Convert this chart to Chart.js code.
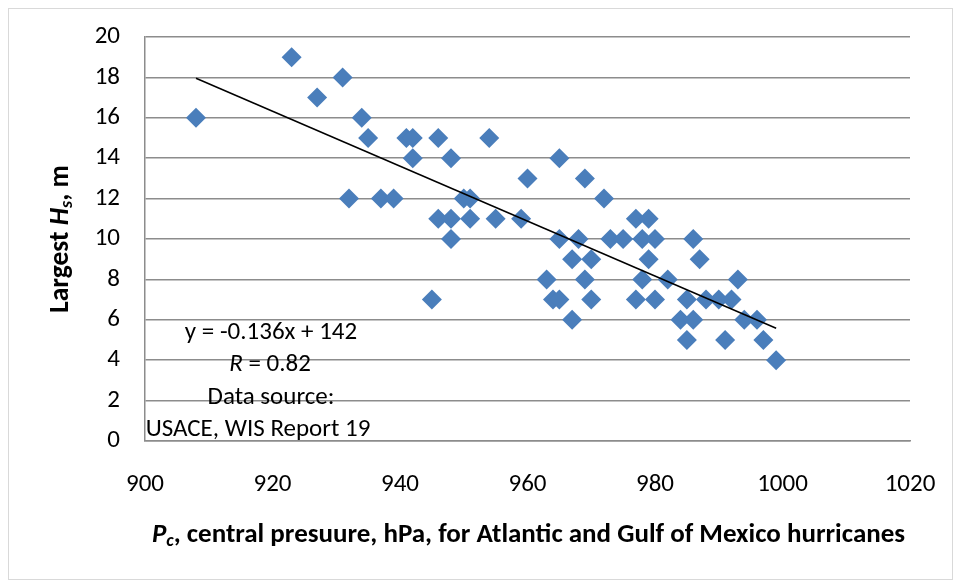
<!DOCTYPE html>
<html>
<head>
<meta charset="utf-8">
<script src="https://cdn.jsdelivr.net/npm/chart.js@4.4.1/dist/chart.umd.min.js"></script>
<style>
html,body{margin:0;padding:0;background:#fff;}
#wrap{position:relative;width:956px;height:583px;}
#frame{position:absolute;left:8px;top:8px;width:945px;height:572px;border:1.5px solid #d9d9d9;box-sizing:border-box;}
canvas{position:absolute;left:0;top:0;}
</style>
</head>
<body>
<div id="wrap">
<div id="frame"></div>
<canvas id="c" width="956" height="583"></canvas>
</div>
<script>
// Central pressure (hPa) and largest Hs (m)
const pressure = [908,923,927,931,932,934,935,937,939,941,942,942,945,946,946,948,948,948,950,951,951,954,955,959,960,963,964,965,965,965,967,967,968,969,969,970,970,972,973,975,977,977,978,978,979,979,980,980,982,984,985,985,986,986,987,988,990,991,992,993,994,996,997,999];
const waveHeight = [16,19,17,18,12,16,15,12,12,15,15,14,7,15,11,14,11,10,12,12,11,15,11,11,13,8,7,7,14,10,9,6,10,13,8,9,7,12,10,10,11,7,10,8,11,9,10,7,8,6,7,5,10,6,9,7,7,5,7,8,6,6,5,4];
const trendX = [908, 999];
const trendY = [17.96, 5.58];
const xTicks = [900,920,940,960,980,1000,1020];
const yTicks = [0,2,4,6,8,10,12,14,16,18,20];
const annotationLines = ["y = -0.136x + 142", "R = 0.82", "Data source:", "USACE, WIS Report 19"];

const FONT = "Carlito, Lato, 'Open Sans', sans-serif";
const TICK_SIZE = 25;
const NOTE_SIZE = 25;
const XTITLE_SIZE = 27;
const YTITLE_SIZE = 27.5;
const SUB_SIZE = 18;
const AREA = {left:145, right:910, top:37, bottom:441};

const scatterData = pressure.map((p,i)=>({x:p,y:waveHeight[i]}));
const trendData = trendX.map((x,i)=>({x:x,y:trendY[i]}));

const textPlugin = {
  id:'texts',
  afterDraw(chart){
    const ctx = chart.ctx;
    const ca = chart.chartArea;
    ctx.save();
    ctx.fillStyle = '#000';
    ctx.textBaseline = 'middle';
    const cx = [271, 270, 271, 258];
    const cy = [333, 365, 398, 430];
    const nf = NOTE_SIZE + "px " + FONT;
    const nfi = "italic " + NOTE_SIZE + "px " + FONT;
    annotationLines.forEach((t,i)=>{
      if (i === 1) {
        ctx.font = nfi;
        const w1 = ctx.measureText("R").width;
        ctx.font = nf;
        const rest = t.slice(1);
        const w2 = ctx.measureText(rest).width;
        const x0 = cx[i] - (w1+w2)/2;
        ctx.textAlign = 'left';
        ctx.font = nfi;
        ctx.fillText("R", x0, cy[i]);
        ctx.font = nf;
        ctx.fillText(rest, x0 + w1, cy[i]);
      } else {
        ctx.font = nf;
        ctx.textAlign = 'center';
        ctx.fillText(t, cx[i], cy[i]);
      }
    });
    const parts = [
      {t:"P", f:"italic bold "+XTITLE_SIZE+"px "+FONT, dy:0},
      {t:"c", f:"italic bold "+SUB_SIZE+"px "+FONT, dy:6},
      {t:", central presuure, hPa, for Atlantic and Gulf of Mexico hurricanes", f:"bold "+XTITLE_SIZE+"px "+FONT, dy:0}
    ];
    let total = 0;
    parts.forEach(p=>{ctx.font=p.f; p.w=ctx.measureText(p.t).width; total+=p.w;});
    let x = (ca.left+ca.right)/2 - total/2 + 1;
    const ty = 535;
    ctx.textAlign='left';
    parts.forEach(p=>{ctx.font=p.f; ctx.fillText(p.t, x, ty+p.dy); x+=p.w;});
    const yparts = [
      {t:"Largest ", f:"bold "+YTITLE_SIZE+"px "+FONT, dy:0},
      {t:"H", f:"italic bold "+YTITLE_SIZE+"px "+FONT, dy:0},
      {t:"s", f:"italic bold "+SUB_SIZE+"px "+FONT, dy:6},
      {t:", m", f:"bold "+YTITLE_SIZE+"px "+FONT, dy:0}
    ];
    total = 0;
    yparts.forEach(p=>{ctx.font=p.f; p.w=ctx.measureText(p.t).width; total+=p.w;});
    ctx.translate(61, (ca.top+ca.bottom)/2);
    ctx.rotate(-Math.PI/2);
    x = -total/2;
    yparts.forEach(p=>{ctx.font=p.f; ctx.fillText(p.t, x, p.dy); x+=p.w;});
    ctx.restore();
  }
};

new Chart(document.getElementById('c'), {
  type:'scatter',
  data:{
    datasets:[
      {
        label:'Hs',
        data:scatterData,
        pointStyle:'rectRot',
        pointRadius:10,
        pointHoverRadius:10,
        backgroundColor:'#4a7ebb',
        borderColor:'#4a7ebb',
        borderWidth:0,
        order:2
      },
      {
        label:'trend',
        type:'line',
        data:trendData,
        borderColor:'#000',
        borderWidth:1.5,
        pointRadius:0,
        fill:false,
        order:1
      }
    ]
  },
  plugins:[textPlugin],
  options:{
    responsive:false,
    animation:false,
    events:[],
    layout:{padding:{left:0,right:956-AREA.right,top:AREA.top,bottom:0}},
    plugins:{legend:{display:false},tooltip:{enabled:false}},
    scales:{
      x:{
        type:'linear',
        min:900,max:1020,
        afterBuildTicks(s){ s.ticks = xTicks.map(v=>({value:v})); },
        afterFit(s){ s.height = 583-AREA.bottom; s.paddingLeft = 0; s.paddingRight = 0; },
        grid:{display:false, drawTicks:false},
        border:{display:true,color:'#8c8c8c',width:1.5},
        ticks:{color:'#000',font:{family:FONT,size:TICK_SIZE},padding:29,maxRotation:0,autoSkip:false,
               callback:(v)=>String(v)}
      },
      y:{
        type:'linear',
        min:0,max:20,
        afterBuildTicks(s){ s.ticks = yTicks.map(v=>({value:v})); },
        afterFit(s){ s.width = AREA.left; s.paddingTop = 0; s.paddingBottom = 0; },
        grid:{color:'#8c8c8c',lineWidth:1.5,drawTicks:false},
        border:{display:true,color:'#8c8c8c',width:1.5},
        ticks:{color:'#000',font:{family:FONT,size:TICK_SIZE},padding:25,autoSkip:false,
               callback:(v)=>String(v)}
      }
    }
  }
});
</script>
</body>
</html>
